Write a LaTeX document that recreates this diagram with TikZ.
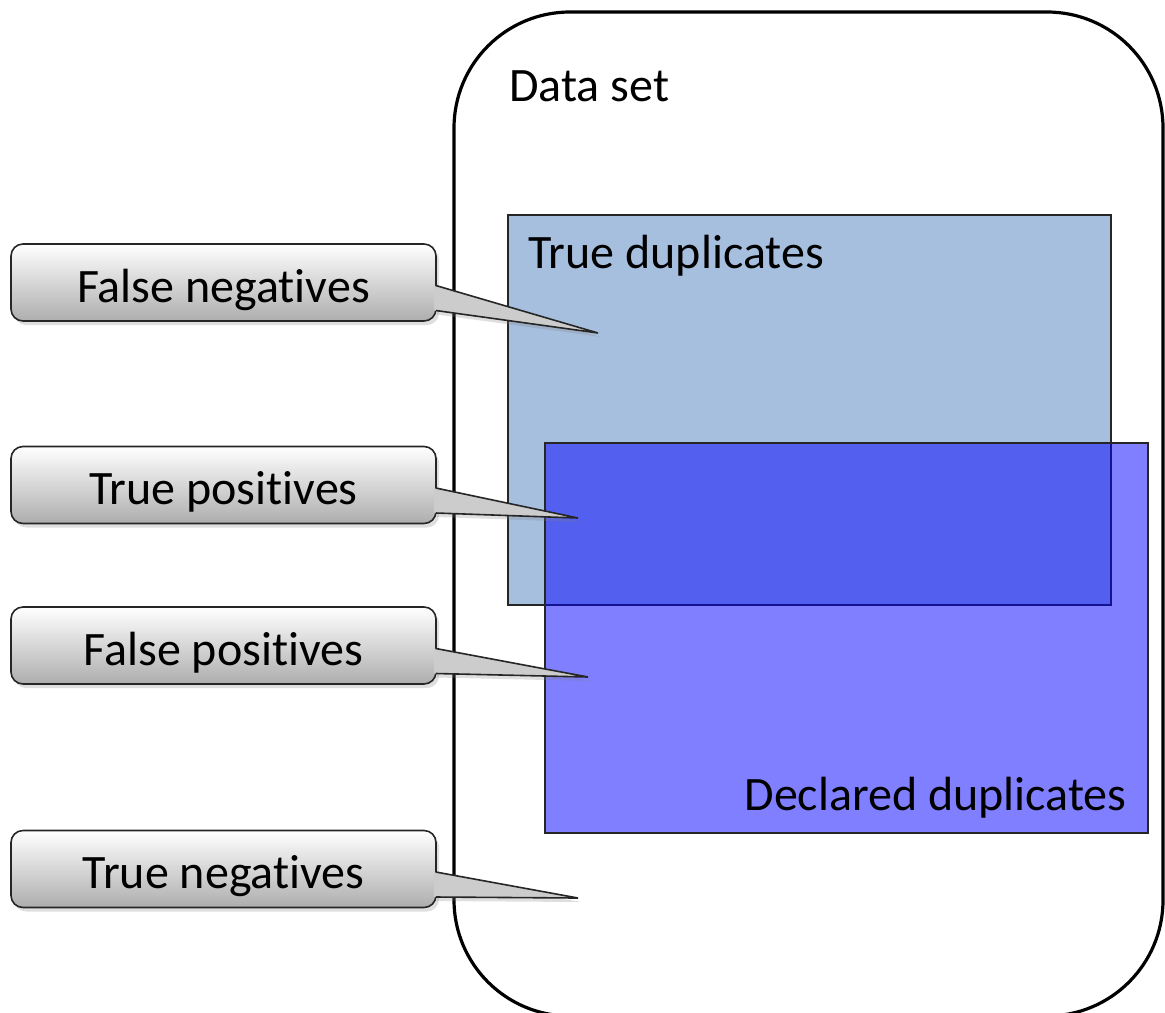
\documentclass[tikz,border=0pt]{standalone}
\usepackage{fontspec}
\setmainfont[Ligatures=NoCommon]{Carlito}
\usetikzlibrary{calc,shadows}
\definecolor{dupblue}{HTML}{A7BFDE}
\begin{document}
\begin{tikzpicture}[x=0.5pt,y=-0.5pt,dataset/.style={draw=black,line width=1.6pt,rounded corners=58pt},dupbox/.style={draw=black!85,line width=0.7pt,minimum width=301.5pt,minimum height=195pt,inner sep=0pt},truedup/.style={dupbox,fill=dupblue},decldup/.style={dupbox,fill=blue,fill opacity=0.5},lbl/.style={inner sep=0pt,font=\fontsize{24}{28}\selectfont},callbox/.style={lbl,draw=black!85,line width=0.8pt,rounded corners=6pt,top color=white,bottom color=black!32,minimum width=212.5pt,minimum height=38.5pt,text height=19.5pt,text depth=0pt,drop shadow={shadow xshift=1.5pt,shadow yshift=-2pt,opacity=0.25}},wedge/.style={fill=black!20,drop shadow={shadow xshift=1.5pt,shadow yshift=-2pt,opacity=0.25}},wedgeline/.style={draw=black!85,line width=0.8pt,line join=miter}]
\def\cx{223.5};
\def\ua{3};
\def\ub{28};

\useasboundingbox (0,0) rectangle (1165,1012);

\draw[dataset] (454,12) rectangle (1163,1016);
\node[lbl,anchor=west] (dsl) at (509,86) {Data set};

\node[truedup] (td) at (809.5,410) {};
\node[lbl,anchor=west] (tdl) at (528,256) {True duplicates};
\node[decldup] (dd) at (846.5,638) {};
\node[lbl,anchor=east] (ddl) at (1127,798) {Declared duplicates};

\coordinate (fnTip) at (598,333);
\coordinate (tpTip) at (578,518);
\coordinate (fpTip) at (588,677);
\coordinate (tnTip) at (578,898);

\node[callbox] (fn) at (\cx,282.5) {False negatives};
\path[wedge] ($(fn.east)+(-3,\ua)$) -- (fnTip) -- ($(fn.east)+(-3,\ub)$) -- cycle;
\draw[wedgeline] ($(fn.east)+(-1,\ua)$) -- (fnTip) -- ($(fn.east)+(-1,\ub)$);

\node[callbox] (tp) at (\cx,485) {True positives};
\path[wedge] ($(tp.east)+(-3,\ua)$) -- (tpTip) -- ($(tp.east)+(-3,\ub)$) -- cycle;
\draw[wedgeline] ($(tp.east)+(-1,\ua)$) -- (tpTip) -- ($(tp.east)+(-1,\ub)$);

\node[callbox] (fp) at (\cx,645.5) {False positives};
\path[wedge] ($(fp.east)+(-3,\ua)$) -- (fpTip) -- ($(fp.east)+(-3,\ub)$) -- cycle;
\draw[wedgeline] ($(fp.east)+(-1,\ua)$) -- (fpTip) -- ($(fp.east)+(-1,\ub)$);

\node[callbox] (tn) at (\cx,869) {True negatives};
\path[wedge] ($(tn.east)+(-3,\ua)$) -- (tnTip) -- ($(tn.east)+(-3,\ub)$) -- cycle;
\draw[wedgeline] ($(tn.east)+(-1,\ua)$) -- (tnTip) -- ($(tn.east)+(-1,\ub)$);
\end{tikzpicture}
\end{document}
